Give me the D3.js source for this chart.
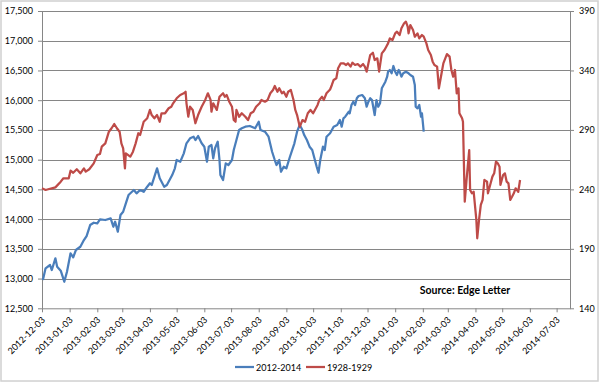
<!DOCTYPE html>
<html><head><meta charset="utf-8">
<script src="https://cdn.jsdelivr.net/npm/d3@7"></script>
<style>body{margin:0;background:#fff} svg{display:block} text{font-family:Lato,"Open Sans",sans-serif}</style>
</head><body><svg id="c" width="600" height="383"></svg>
<script>
const xTickLabels = ["2012-12-03","2013-01-03","2013-02-03","2013-03-03","2013-04-03","2013-05-03","2013-06-03","2013-07-03","2013-08-03","2013-09-03","2013-10-03","2013-11-03","2013-12-03","2014-01-03","2014-02-03","2014-03-03","2014-04-03","2014-05-03","2014-06-03","2014-07-03"];
const leftTicks = [12500,13000,13500,14000,14500,15000,15500,16000,16500,17000,17500];
const rightTicks = [140,190,240,290,340,390];
const seriesNames = ["2012-2014","1928-1929"];
const sourceText = "Source: Edge Letter";

const blueDates = ["2012-12-04","2012-12-07","2012-12-12","2012-12-14","2012-12-18","2012-12-20","2012-12-24","2012-12-28","2012-12-31","2013-01-04",
"2013-01-07","2013-01-10","2013-01-15","2013-01-19","2013-01-22","2013-01-26","2013-01-30","2013-02-03","2013-02-06","2013-02-12",
"2013-02-18","2013-02-21","2013-02-23","2013-02-26","2013-03-01","2013-03-04","2013-03-07","2013-03-10","2013-03-16","2013-03-19",
"2013-03-23","2013-03-27","2013-03-31","2013-04-03","2013-04-05","2013-04-11","2013-04-14","2013-04-19","2013-04-22","2013-04-28",
"2013-05-01","2013-05-03","2013-05-07","2013-05-11","2013-05-14","2013-05-18","2013-05-22","2013-05-24","2013-05-27","2013-05-31",
"2013-06-03","2013-06-06","2013-06-08","2013-06-11","2013-06-13","2013-06-15","2013-06-18","2013-06-20","2013-06-21","2013-06-24",
"2013-06-27","2013-06-30","2013-07-04","2013-07-06","2013-07-09","2013-07-12","2013-07-15","2013-07-19","2013-07-24","2013-07-30",
"2013-08-03","2013-08-05","2013-08-10","2013-08-14","2013-08-18","2013-08-21","2013-08-23","2013-08-26","2013-08-28","2013-08-31",
"2013-09-03","2013-09-07","2013-09-12","2013-09-15","2013-09-18","2013-09-21","2013-09-23","2013-09-26","2013-09-29","2013-10-02",
"2013-10-04","2013-10-07","2013-10-09","2013-10-11","2013-10-14","2013-10-16","2013-10-18","2013-10-22","2013-10-26","2013-10-30",
"2013-11-02","2013-11-04","2013-11-06","2013-11-08","2013-11-12","2013-11-13","2013-11-15","2013-11-17","2013-11-19","2013-11-21",
"2013-11-23","2013-11-27","2013-11-30","2013-12-02","2013-12-04","2013-12-06","2013-12-08","2013-12-10","2013-12-11","2013-12-13",
"2013-12-15","2013-12-17","2013-12-19","2013-12-23","2013-12-25","2013-12-26","2013-12-28","2013-12-30","2014-01-01","2014-01-03",
"2014-01-05","2014-01-07","2014-01-08","2014-01-10","2014-01-12","2014-01-15","2014-01-18","2014-01-20","2014-01-23","2014-01-25",
"2014-01-26","2014-01-28","2014-01-30","2014-02-01","2014-02-02","2014-02-04"];
const blueValues = [12975,13172,13228,13144,13340,13199,13132,12947,13115,13425,
13357,13480,13535,13648,13715,13900,13939,13929,13996,13985,
14013,13872,13956,13788,14069,14124,14266,14405,14489,14434,
14489,14460,14545,14602,14573,14854,14686,14545,14573,14741,
14854,14994,14965,15106,15275,15359,15386,15330,15397,15275,
15218,14965,15218,15246,15022,15191,15302,14994,14741,14657,
14938,14910,14994,15162,15330,15498,15527,15554,15566,15527,
15638,15498,15470,15386,15133,14994,14910,14994,14797,14881,
14854,15049,15275,15470,15582,15498,15414,15330,15218,15162,
15049,14881,14780,14994,15218,15162,15386,15443,15554,15582,
15667,15554,15695,15722,15806,15779,15919,15974,15919,16032,
16070,16087,16032,15890,15974,16032,16003,15835,15751,16003,
15890,15947,16200,16311,16395,16479,16508,16452,16575,16479,
16424,16508,16479,16395,16452,16479,16452,16424,16395,16255,
15890,15863,15919,15722,15779,15470];

const redDates = ["2012-12-03","2012-12-07","2012-12-10","2012-12-14","2012-12-18","2012-12-24","2012-12-27","2013-01-02","2013-01-04","2013-01-07",
"2013-01-11","2013-01-15","2013-01-19","2013-01-21","2013-01-25","2013-01-30","2013-02-03","2013-02-06","2013-02-08","2013-02-12",
"2013-02-16","2013-02-19","2013-02-22","2013-02-25","2013-02-28","2013-03-02","2013-03-04","2013-03-06","2013-03-07","2013-03-12",
"2013-03-15","2013-03-18","2013-03-21","2013-03-23","2013-03-27","2013-03-31","2013-04-03","2013-04-05","2013-04-08","2013-04-11",
"2013-04-14","2013-04-16","2013-04-20","2013-04-24","2013-04-27","2013-04-29","2013-05-03","2013-05-07","2013-05-11","2013-05-13",
"2013-05-14","2013-05-16","2013-05-18","2013-05-21","2013-05-24","2013-05-27","2013-05-31","2013-06-04","2013-06-07","2013-06-10",
"2013-06-11","2013-06-13","2013-06-17","2013-06-20","2013-06-24","2013-06-26","2013-06-28","2013-07-01","2013-07-04","2013-07-06",
"2013-07-08","2013-07-09","2013-07-12","2013-07-15","2013-07-19","2013-07-22","2013-07-25","2013-07-28","2013-07-31","2013-08-04",
"2013-08-06","2013-08-10","2013-08-13","2013-08-16","2013-08-19","2013-08-21","2013-08-24","2013-08-26","2013-08-29","2013-08-31",
"2013-09-03","2013-09-05","2013-09-08","2013-09-11","2013-09-13","2013-09-15","2013-09-18","2013-09-21","2013-09-24","2013-09-27",
"2013-09-30","2013-10-03","2013-10-05","2013-10-08","2013-10-10","2013-10-13","2013-10-15","2013-10-18","2013-10-22","2013-10-24",
"2013-10-26","2013-10-29","2013-10-31","2013-11-03","2013-11-06","2013-11-09","2013-11-11","2013-11-14","2013-11-16","2013-11-19",
"2013-11-22","2013-11-25","2013-11-28","2013-11-30","2013-12-02","2013-12-04","2013-12-06","2013-12-09","2013-12-11","2013-12-14",
"2013-12-16","2013-12-19","2013-12-22","2013-12-24","2013-12-26","2013-12-28","2013-12-31","2014-01-03","2014-01-05","2014-01-08",
"2014-01-10","2014-01-13","2014-01-15","2014-01-17","2014-01-18","2014-01-20","2014-01-23","2014-01-25","2014-01-28","2014-01-30",
"2014-02-02","2014-02-04","2014-02-07","2014-02-09","2014-02-12","2014-02-14","2014-02-16","2014-02-19","2014-02-21","2014-02-24",
"2014-02-26","2014-03-02","2014-03-05","2014-03-07","2014-03-09","2014-03-11","2014-03-13","2014-03-15","2014-03-16","2014-03-19",
"2014-03-20","2014-03-22","2014-03-24","2014-03-27","2014-03-28","2014-03-30","2014-04-01","2014-04-04","2014-04-05","2014-04-07",
"2014-04-09","2014-04-11","2014-04-13","2014-04-16","2014-04-17","2014-04-20","2014-04-22","2014-04-24","2014-04-26","2014-04-28",
"2014-04-30","2014-05-01","2014-05-04","2014-05-06","2014-05-08","2014-05-10","2014-05-12","2014-05-14","2014-05-16","2014-05-18","2014-05-21","2014-05-23"];
const redValues = [240.9,239.5,240.1,240.9,241.7,246.5,249.3,249.3,255.7,254,
256.9,253.5,257.7,254.9,256.9,261.9,268.9,269.8,275.9,278.7,
288.5,291.4,295,291.4,288.5,278.7,274.5,257.7,270.3,267.5,
271.7,278.7,287.2,285.7,296.9,299.8,306.8,302.5,299.8,302.5,
296.9,304,304,308.2,309.5,312.4,316.6,319.4,320.8,322.1,
312.4,301.1,309.5,306.8,295.6,302.5,309.5,315.2,320.8,315.2,
305.3,312.4,306.8,317.9,320.8,317.9,319.4,313.7,309.5,298.3,
296.9,306.8,301.1,304,301.1,298.3,304,305.3,309.5,312.4,
315.2,313.7,315.2,320.8,323.6,326.9,322.1,325,320.8,322.1,
317.9,322.1,323.6,315.2,306.8,302.5,292.7,298.3,296.9,304,
306.8,304,306.8,311,315.2,317.9,315.2,320.8,324,327.8,
332,333.4,341.8,346,346,344.6,346,343.2,346.5,344.6,
345.4,343.2,345.4,343.2,339,346,353,354.9,348.8,350.2,
339,354.4,357.2,360,362.8,367,365.6,371.2,372.6,369.8,
375.5,379.7,381,376.8,371.2,378.2,374,368.4,371.2,367,
369.8,368.4,362.8,357.2,353,347.4,344.6,343.2,325,337.6,
346,353.8,351.6,340.4,334.8,340.4,320.8,325,304,299.8,
296.9,229.6,247.9,273.1,239.5,236.7,238,214.3,198.9,214.3,
226.9,231.1,247.9,246.5,236.7,245.1,250.7,253.5,263.3,261.9,
259.1,243.7,252.1,253.5,246.5,245.1,231.1,233.8,236.7,240.9,238,247.9];

const svg = d3.select("#c");
const parse = d3.utcParse("%Y-%m-%d");
const L = 42, R = 570, T = 11, B = 308.3;
const x = d3.scaleUtc().domain([parse("2012-12-03"), parse("2014-07-18")]).range([L, R]);
const yL = d3.scaleLinear().domain([12500, 17500]).range([B, T]);
const yR = d3.scaleLinear().domain([140, 390]).range([B, T]);
const axisColor = "#868686";

svg.append("rect").attr("x", 1).attr("y", 1).attr("width", 597).attr("height", 380)
  .attr("fill", "#fff").attr("stroke", "#d0d0d0").attr("stroke-width", 1.5);

svg.append("g").selectAll("line").data(leftTicks.slice(1)).join("line")
  .attr("x1", L).attr("x2", R).attr("y1", d => Math.round(yL(d)) + 0.5).attr("y2", d => Math.round(yL(d)) + 0.5)
  .attr("stroke", axisColor).attr("stroke-width", 1);

function styleAxis(g) {
  g.selectAll("path,line").attr("stroke", axisColor);
  g.selectAll("text").attr("fill", "#000").style("font-size", "9px").style("font-family", "Lato, 'Open Sans', sans-serif");
}

svg.append("g").attr("transform", `translate(${L},0)`)
  .call(d3.axisLeft(yL).tickValues(leftTicks).tickSize(4).tickSizeOuter(0).tickPadding(5).tickFormat(d3.format(",")))
  .call(styleAxis);

svg.append("g").attr("transform", `translate(${R},0)`)
  .call(d3.axisRight(yR).tickValues(rightTicks).tickSize(4).tickSizeOuter(0).tickPadding(5))
  .call(styleAxis);

const gx = svg.append("g").attr("transform", `translate(0,${B})`)
  .call(d3.axisBottom(x).tickValues(xTickLabels.map(parse)).tickSize(4).tickSizeOuter(0).tickFormat((d, i) => xTickLabels[i]))
  .call(styleAxis);
gx.selectAll("text").attr("x", 0).attr("y", 0).attr("dy", "0.35em")
  .attr("text-anchor", "end").attr("transform", "translate(1,10) rotate(-45)");

const blue = blueDates.map((d, i) => ({date: parse(d), v: blueValues[i]}));
const red = redDates.map((d, i) => ({date: parse(d), v: redValues[i]}));

svg.append("path").datum(blue)
  .attr("d", d3.line().x(d => x(d.date)).y(d => yL(d.v)))
  .attr("fill", "none").attr("stroke", "#4A7EBB").attr("stroke-width", 2.25).attr("stroke-linejoin", "round");
svg.append("path").datum(red)
  .attr("d", d3.line().x(d => x(d.date)).y(d => yR(d.v)))
  .attr("fill", "none").attr("stroke", "#BE4B48").attr("stroke-width", 2.25).attr("stroke-linejoin", "round");

svg.append("text").attr("x", 465).attr("y", 294).attr("text-anchor", "middle")
  .style("font-size", "10.5px").style("font-weight", "bold").text(sourceText);

const legendColors = ["#4A7EBB", "#BE4B48"];
const lx = [235, 306];
const lg = svg.append("g");
seriesNames.forEach((n, i) => {
  lg.append("line").attr("x1", lx[i]).attr("x2", lx[i] + 19).attr("y1", 367).attr("y2", 367)
    .attr("stroke", legendColors[i]).attr("stroke-width", 2.25);
  lg.append("text").attr("x", lx[i] + 21).attr("y", 370.5).style("font-size", "9px").text(n);
});
</script></body></html>
